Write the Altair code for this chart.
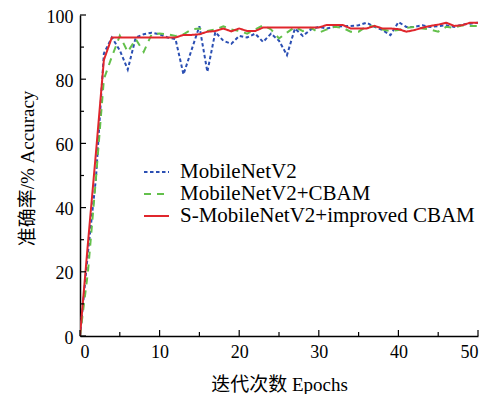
import altair as alt
import pandas as pd

epochs = list(range(51))
mobilenet = [0, 26, 49, 88, 93, 89, 83, 93, 94, 94.5, 94, 93, 92.5, 81.5, 89, 96.5, 82.3, 94.7, 92, 91,
             93.5, 93, 94.2, 91.6, 94.2, 92, 87.5, 95.8, 93.5, 95.5, 96.3, 95.8, 96.3, 96.5, 96.6, 96.8,
             97.6, 96.3, 95.3, 93.7, 97.8, 96.3, 96.3, 96.8, 96.3, 96.5, 96.8, 96.3, 97, 97.3, 97.6]
cbam = [0, 20, 49, 80, 87, 93.5, 88.5, 92.5, 88.5, 94, 94.2, 94, 93.5, 94, 95.5, 95.8, 95, 95.5, 96.5, 95.5,
        95, 94.2, 95.5, 96.8, 95.5, 92.7, 94.5, 96.3, 95, 96, 94.5, 95.5, 96.3, 96, 94.8, 94.8, 96.5,
        96.5, 95.5, 95, 95.3, 96, 96.3, 95.8, 95.5, 94.8, 96.3, 96, 96.8, 96.6, 96.6]
smobile = [0, 29, 57, 86, 93, 93, 93, 93, 93, 93, 93, 93, 93, 93.8, 93.8, 94, 94.8, 95, 95.8, 94.9,
           95.8, 95, 95, 96.1, 96.1, 96.1, 96.1, 96.1, 96.1, 96.1, 96.1, 96.9, 96.9, 96.9, 95.8, 95.8,
           95.8, 96.6, 95.8, 95.8, 95.6, 94.8, 95.3, 96, 96.6, 97, 97.6, 96.6, 96.8, 97.6, 97.6]

models = ["MobileNetV2", "MobileNetV2+CBAM", "S-MobileNetV2+improved CBAM"]
colors = ["#2b4fb3", "#63c04b", "#e0262c"]
dashes = [[3.5, 2.5], [7, 6], [1, 0]]

x_major = [0, 10, 20, 30, 40, 50]
x_minor = [5, 15, 25, 35, 45]
y_major = [0, 20, 40, 60, 80, 100]
y_minor = [10, 30, 50, 70, 90]

W, H = 398, 321

rows = []
for name, vals in zip(models, [mobilenet, cbam, smobile]):
    for e, v in zip(epochs, vals):
        rows.append({"epoch": e, "acc": v, "model": name})
df = pd.DataFrame(rows)

xs = alt.Scale(domain=[0, 50], nice=False, zero=False)
ys = alt.Scale(domain=[0, 100], nice=False)

lines = alt.Chart(df).mark_line(strokeWidth=2, clip=True).encode(
    x=alt.X("epoch:Q", scale=xs,
            axis=alt.Axis(values=x_major, title="迭代次数 Epochs", labelPadding=7, titlePadding=14,
                          format="d")),
    y=alt.Y("acc:Q", scale=ys,
            axis=alt.Axis(values=y_major, title="准确率/% Accuracy", labelPadding=7, labelOffset=2,
                          titleX=-53, titleY=153, titleBaseline="middle", titleAngle=270,
                          format="d")),
    color=alt.Color("model:N", scale=alt.Scale(domain=models, range=colors), title=None,
                    legend=alt.Legend(orient="none", legendX=63, legendY=146, symbolType="stroke",
                                      symbolSize=625, symbolStrokeWidth=2, labelFontSize=21,
                                      labelOffset=10, rowPadding=0, clipHeight=22, labelLimit=0,
                                      labelColor="black")),
    strokeDash=alt.StrokeDash("model:N", scale=alt.Scale(domain=models, range=dashes), title=None),
    order=alt.Order("epoch:Q"),
)

def xt(vals, length):
    d = pd.DataFrame({"v": vals})
    return alt.Chart(d).mark_rule(color="black", strokeWidth=1.2).encode(
        x=alt.X("v:Q", scale=xs), y=alt.value(H), y2=alt.value(H - length))

def yt(vals, length):
    d = pd.DataFrame({"v": vals})
    return alt.Chart(d).mark_rule(color="black", strokeWidth=1.2).encode(
        y=alt.Y("v:Q", scale=ys), x=alt.value(0), x2=alt.value(length))

chart = alt.layer(
    lines, xt(x_major, 6), xt(x_minor, 4), yt(y_major, 6), yt(y_minor, 4)
).properties(
    width=W, height=H,
    autosize=alt.AutoSizeParams(type="none"),
    padding={"left": 72, "top": 7, "right": 4, "bottom": 58},
).configure(
    font="Liberation Serif, Noto Sans CJK SC",
).configure_view(
    stroke=None
).configure_axis(
    grid=False, ticks=False, domainColor="black", domainWidth=1.5,
    labelColor="black", labelFontSize=18, titleFontSize=19, titleFontWeight="normal",
    titleColor="black", labelFont="Liberation Serif", titleFont="Liberation Serif, Noto Sans CJK SC",
).configure_legend(
    labelFont="Liberation Serif"
)

chart.save("out.html", embed_options={"renderer": "svg", "actions": False})
